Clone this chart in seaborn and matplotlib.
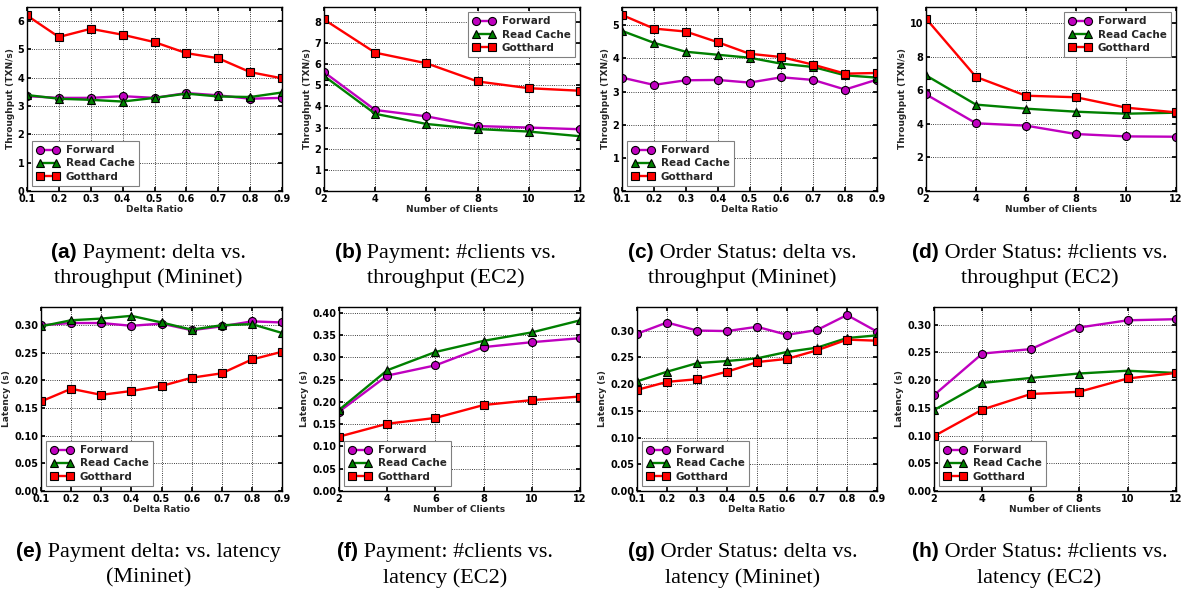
import numpy as np
import pandas as pd
import seaborn as sns
import matplotlib.pyplot as plt
from matplotlib.offsetbox import TextArea, HPacker, AnnotationBbox

# x axes
delta = [0.1, 0.2, 0.3, 0.4, 0.5, 0.6, 0.7, 0.8, 0.9]
clients = [2, 4, 6, 8, 10, 12]

# (a) Payment: delta vs throughput (Mininet)
a_fwd = [3.35, 3.29, 3.29, 3.35, 3.29, 3.46, 3.38, 3.26, 3.29]
a_rc = [3.39, 3.26, 3.22, 3.16, 3.29, 3.44, 3.34, 3.32, 3.48]
a_got = [6.20, 5.44, 5.73, 5.52, 5.26, 4.87, 4.69, 4.20, 3.98]

# (b) Payment: #clients vs throughput (EC2)
b_fwd = [5.62, 3.83, 3.53, 3.07, 3.00, 2.92]
b_rc = [5.44, 3.65, 3.17, 2.93, 2.81, 2.59]
b_got = [8.11, 6.54, 6.04, 5.18, 4.86, 4.74]

# (c) Order Status: delta vs throughput (Mininet)
c_fwd = [3.42, 3.20, 3.34, 3.35, 3.27, 3.43, 3.35, 3.06, 3.36]
c_rc = [4.83, 4.47, 4.20, 4.11, 4.02, 3.84, 3.74, 3.49, 3.42]
c_got = [5.31, 4.90, 4.81, 4.49, 4.14, 4.04, 3.81, 3.54, 3.56]

# (d) Order Status: #clients vs throughput (EC2)
d_fwd = [5.75, 4.03, 3.89, 3.39, 3.25, 3.23]
d_rc = [6.88, 5.14, 4.90, 4.72, 4.60, 4.66]
d_got = [10.26, 6.79, 5.67, 5.58, 4.96, 4.68]

# (e) Payment: delta vs latency (Mininet)
e_fwd = [0.300, 0.304, 0.304, 0.299, 0.303, 0.291, 0.298, 0.307, 0.305]
e_rc = [0.298, 0.309, 0.312, 0.317, 0.305, 0.292, 0.300, 0.302, 0.286]
e_got = [0.162, 0.185, 0.174, 0.181, 0.190, 0.205, 0.213, 0.238, 0.252]

# (f) Payment: #clients vs latency (EC2)
f_fwd = [0.178, 0.259, 0.282, 0.323, 0.334, 0.343]
f_rc = [0.182, 0.271, 0.312, 0.337, 0.356, 0.383]
f_got = [0.122, 0.151, 0.164, 0.193, 0.204, 0.212]

# (g) Order Status: delta vs latency (Mininet)
g_fwd = [0.294, 0.315, 0.300, 0.299, 0.307, 0.292, 0.301, 0.329, 0.298]
g_rc = [0.205, 0.223, 0.239, 0.243, 0.248, 0.260, 0.268, 0.286, 0.291]
g_got = [0.189, 0.204, 0.209, 0.223, 0.241, 0.247, 0.263, 0.283, 0.281]

# (h) Order Status: #clients vs latency (EC2)
h_fwd = [0.173, 0.248, 0.256, 0.295, 0.308, 0.310]
h_rc = [0.146, 0.195, 0.204, 0.212, 0.217, 0.213]
h_got = [0.099, 0.147, 0.175, 0.179, 0.203, 0.213]

series = ['Forward', 'Read Cache', 'Gotthard']
colors = {'Forward': '#BF00BF', 'Read Cache': '#008000', 'Gotthard': '#FF0000'}
markers = {'Forward': 'o', 'Read Cache': '^', 'Gotthard': 's'}

panels = [
    ('a', delta, [a_fwd, a_rc, a_got], 'Delta Ratio', 'Throughput (TXN/s)', 6.5, 1, 'lower left',
     'Payment: delta vs.', 'throughput (Mininet)'),
    ('b', clients, [b_fwd, b_rc, b_got], 'Number of Clients', 'Throughput (TXN/s)', 8.7, 1, 'upper right',
     'Payment: #clients vs.', 'throughput (EC2)'),
    ('c', delta, [c_fwd, c_rc, c_got], 'Delta Ratio', 'Throughput (TXN/s)', 5.55, 1, 'lower left',
     'Order Status: delta vs.', 'throughput (Mininet)'),
    ('d', clients, [d_fwd, d_rc, d_got], 'Number of Clients', 'Throughput (TXN/s)', 10.95, 2, 'upper right',
     'Order Status: #clients vs.', 'throughput (EC2)'),
    ('e', delta, [e_fwd, e_rc, e_got], 'Delta Ratio', 'Latency (s)', 0.333, 0.05, 'lower left',
     'Payment delta: vs. latency', '(Mininet)'),
    ('f', clients, [f_fwd, f_rc, f_got], 'Number of Clients', 'Latency (s)', 0.413, 0.05, 'lower left',
     'Payment: #clients vs.', 'latency (EC2)'),
    ('g', delta, [g_fwd, g_rc, g_got], 'Delta Ratio', 'Latency (s)', 0.344, 0.05, 'lower left',
     'Order Status: delta vs.', 'latency (Mininet)'),
    ('h', clients, [h_fwd, h_rc, h_got], 'Number of Clients', 'Latency (s)', 0.332, 0.05, 'lower left',
     'Order Status: #clients vs.', 'latency (EC2)'),
]

# axes boxes in pixels: left, right (top row / bottom row)
W, H = 1188, 594
xbox = [(27, 282), (324, 580), (622, 877), (926, 1176),
        (41, 282), (339, 580), (637, 877), (934, 1176)]
ybox = [(7, 191)] * 4 + [(307, 491)] * 4

sns.set_theme(style='white', color_codes=False)
plt.rcParams.update({
    'font.family': ['DejaVu Sans'],
    'font.weight': 'bold',
    'axes.labelweight': 'bold',
    'axes.edgecolor': 'black',
    'axes.linewidth': 1.0,
    'xtick.direction': 'in',
    'ytick.direction': 'in',
    'xtick.top': True,
    'ytick.right': True,
    'xtick.bottom': True,
    'ytick.left': True,
    'xtick.major.size': 3,
    'ytick.major.size': 3,
    'xtick.color': 'black',
    'ytick.color': 'black',
    'grid.color': 'black',
    'grid.linestyle': ':',
    'grid.linewidth': 0.6,
})

fig = plt.figure(figsize=(W / 100, H / 100), dpi=100)

for i, (tag, x, ys, xl, yl, ytop, ystep, loc, cap1, cap2) in enumerate(panels):
    (l, r), (t, b) = xbox[i], ybox[i]
    ax = fig.add_axes([l / W, 1 - b / H, (r - l) / W, (b - t) / H])
    for name, y in zip(series, ys):
        sns.lineplot(x=x, y=y, ax=ax, color=colors[name], marker=markers[name],
                     markersize=5.8, markeredgecolor='black', markeredgewidth=0.8,
                     linewidth=1.7, label=name)
    ax.set_xlim(x[0], x[-1])
    ax.set_ylim(0, ytop)
    ax.set_xticks(x)
    if isinstance(x[0], float):
        ax.set_xticklabels([f'{v:.1f}' for v in x])
    yt = np.arange(0, ytop + 1e-9, ystep)
    ax.set_yticks(yt)
    if ystep < 1:
        ax.set_yticklabels([f'{v:.2f}' for v in yt])
    else:
        ax.set_yticklabels([f'{v:g}' for v in yt])
    ax.tick_params(labelsize=7, pad=2)
    ax.set_xlabel(xl, fontsize=6.5, labelpad=1)
    ax.set_ylabel(yl, fontsize=6.5, labelpad=2)
    ax.grid(True)
    leg = ax.legend(loc=loc, numpoints=2, fancybox=False, framealpha=1,
                    edgecolor='gray', handlelength=2.2, borderpad=0.4,
                    labelspacing=0.3, handletextpad=0.6,
                    prop={'size': 7.5, 'weight': 'bold'})
    leg.get_frame().set_linewidth(0.8)

    # caption under the panel
    cx = (148.5 + 297 * (i % 4)) / W
    cy1 = 253 if i < 4 else 552
    cy2 = 278 if i < 4 else 578
    lab = TextArea(f'({tag})', textprops=dict(fontfamily='Liberation Sans', fontweight='bold',
                                              fontsize=15, color='black'))
    txt = TextArea(' ' + cap1, textprops=dict(fontfamily='Liberation Serif', fontweight='normal',
                                              fontsize=16, color='black'))
    box = HPacker(children=[lab, txt], align='baseline', pad=0, sep=0)
    fig.add_artist(AnnotationBbox(box, (cx, 1 - cy1 / H), xycoords='figure fraction',
                                  frameon=False, box_alignment=(0.5, 0.5), pad=0))
    fig.text(cx, 1 - cy2 / H, cap2, ha='center', va='center', fontsize=16,
             family='Liberation Serif', weight='normal', color='black')

fig.savefig('out.png', dpi=100)
